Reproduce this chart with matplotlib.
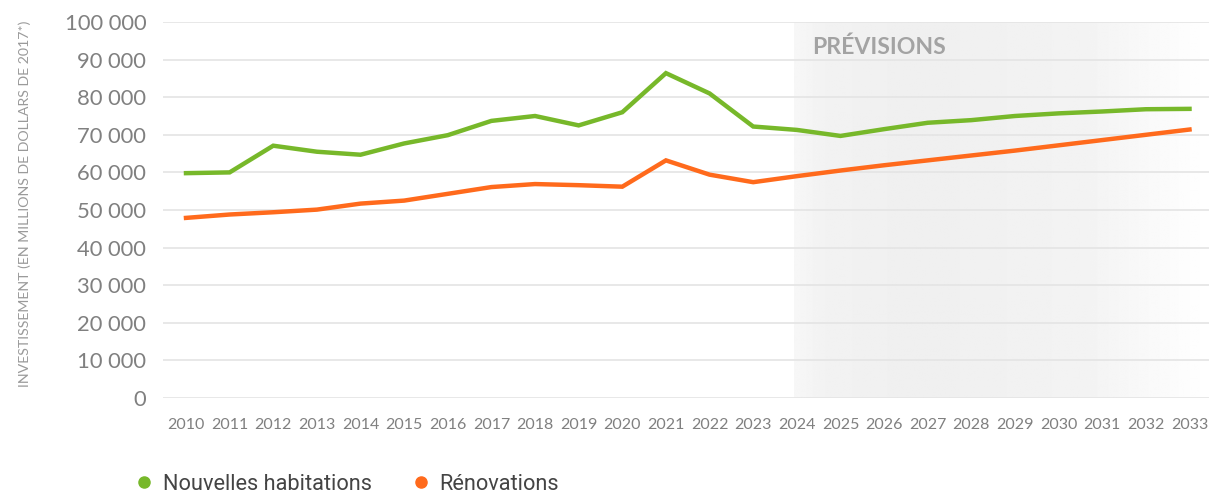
import numpy as np
import matplotlib
matplotlib.use("Agg")
import matplotlib.pyplot as plt
from matplotlib.lines import Line2D

years = list(range(2010, 2034))
nouvelles = [59.8, 60.0, 67.1, 65.5, 64.7, 67.7, 69.9, 73.7, 75.0, 72.5, 76.0, 86.4, 81.0, 72.2,
             71.3, 69.7, 71.5, 73.2, 73.9, 75.0, 75.7, 76.2, 76.8, 76.9]
renovations = [47.9, 48.8, 49.4, 50.1, 51.7, 52.5, 54.3, 56.1, 56.9, 56.6, 56.2, 63.2, 59.4, 57.4,
               59.0, 60.5, 61.9, 63.2, 64.5, 65.8, 67.2, 68.6, 70.0, 71.4]
nouvelles = [v * 1000 for v in nouvelles]
renovations = [v * 1000 for v in renovations]
yticks = list(range(0, 100001, 10000))
ytick_labels = ["0"] + [f"{v//1000} 000" for v in yticks[1:]]
forecast_start = 2024

GREEN = "#77b82a"
ORANGE = "#ff6a1c"

fig = plt.figure(figsize=(12.09, 4.95), dpi=100)
W, H = 1209, 495
ax = fig.add_axes([163 / W, 1 - 398 / H, (1209 - 163) / W, (398 - 22) / H])

x0 = 2010 - 23 / 43.65
x1 = 2033 + 19.5 / 43.65
ax.set_xlim(x0, x1)
ax.set_ylim(0, 100000)

# forecast shading gradient
n = 400
pos = np.linspace(0, 1, n)
vals = np.interp(pos, [0, 0.08, 0.3, 0.7, 1.0], [0.968, 0.948, 0.938, 0.952, 1.0])
img = np.tile(vals, (2, 1))
ax.imshow(img, cmap="gray", vmin=0, vmax=1, aspect="auto",
          extent=[forecast_start - 3 / 43.65, x1, 0, 100000], zorder=0, interpolation="bilinear")

ax.set_yticks(yticks)
ax.set_yticklabels(ytick_labels)
ax.set_xticks(years)
ax.set_xticklabels([str(y) for y in years])
ax.grid(axis="y", color="#e4e4e4", linewidth=1.2, zorder=1)
ax.set_axisbelow(True)
for s in ax.spines.values():
    s.set_visible(False)
ax.tick_params(axis="both", length=0)
ax.tick_params(axis="y", pad=12, labelsize=15.8, labelcolor="#808080")
ax.tick_params(axis="x", pad=14.5, labelsize=11.5, labelcolor="#808080")
for lab in ax.get_yticklabels() + ax.get_xticklabels():
    lab.set_family("Lato")

ax.plot(years, nouvelles, color=GREEN, linewidth=3.2, solid_joinstyle="miter", zorder=3)
ax.plot(years, renovations, color=ORANGE, linewidth=3.2, solid_joinstyle="miter", zorder=3)

ax.text(812 / W, 1 - 47 / H, "PRÉVISIONS", transform=fig.transFigure, fontsize=16.6,
        fontweight="bold", color="#a3a3a3", va="center", ha="left", family="Lato")

fig.text(25 / W, 1 - 204 / H, "INVESTISSEMENT (EN MILLIONS DE DOLLARS DE 2017*)", rotation=90,
         fontsize=10.2, color="#9a9a9a", va="center", ha="center", family="Lato")

handles = [Line2D([], [], marker="o", linestyle="none", color=GREEN, markersize=8),
           Line2D([], [], marker="o", linestyle="none", color=ORANGE, markersize=8)]
leg = fig.legend(handles, ["Nouvelles habitations", "Rénovations"], loc="center left",
                 bbox_to_anchor=(116 / W, 1 - 484 / H), ncol=2, frameon=False,
                 prop={"family": "Roboto", "size": 15.7}, handletextpad=0.25, columnspacing=1.65,
                 handlelength=1.2, borderpad=0.2)
for t in leg.get_texts():
    t.set_color("#444444")

fig.savefig("out.png", dpi=100)
